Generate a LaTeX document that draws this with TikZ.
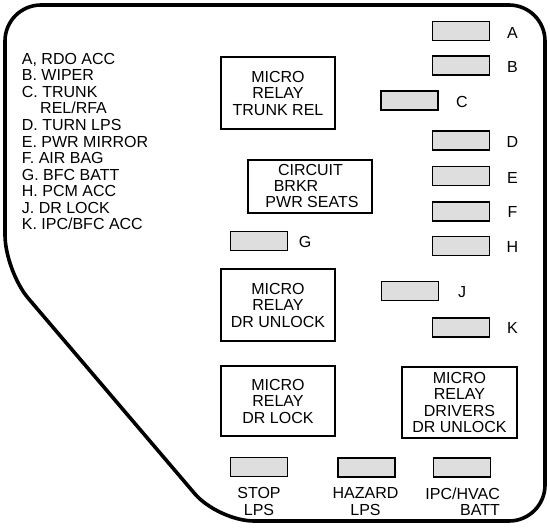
\documentclass[tikz,border=0pt]{standalone}
\usepackage{fontspec}
\setmainfont{Liberation Sans}
\definecolor{fusegray}{RGB}{222,222,222}
\begin{document}
\begin{tikzpicture}[x=1bp,y=-1bp,
  txt/.style={font=\fontsize{16bp}{16.5bp}\selectfont, inner sep=0pt},
  fuse/.style={draw, line width=1.8bp, fill=fusegray, inner sep=0pt, minimum width=57bp, minimum height=19bp},
  relay/.style={draw, line width=1.8bp, fill=white, inner sep=0pt, align=center, font=\fontsize{16bp}{16.5bp}\selectfont},
  outline/.style={line width=3.6bp, rounded corners=36bp}]
\useasboundingbox (0,0) rectangle (550,528);
\draw[outline] (5,150) -- (5,5) -- (545,5) -- (545,521) -- (218,521) -- (5,271) -- cycle;

% left legend
\foreach \t [count=\i] in {{A, RDO ACC},{B. WIPER},{C. TRUNK}}
  \node[txt, anchor=base west] (L\i) at (21.7,{64.3+16.55*(\i-1)}) {\t};
\node[txt, anchor=base west] (L4) at (40,{64.3+16.55*3}) {REL/RFA};
\foreach \t [count=\i from 5] in {{D. TURN LPS},{E. PWR MIRROR},{F. AIR BAG},{G. BFC BATT},{H. PCM ACC},{J. DR LOCK},{K. IPC/BFC ACC}}
  \node[txt, anchor=base west] (L\i) at (21.7,{64.3+16.55*(\i-1)}) {\t};

% relays
\node[relay, minimum width=114bp, minimum height=72bp] (rTrunk) at (278,93) {MICRO\\RELAY\\TRUNK REL};
\node[relay, minimum width=114bp, minimum height=72bp] (rUnlock) at (278,305) {MICRO\\RELAY\\DR UNLOCK};
\node[relay, minimum width=114bp, minimum height=70bp] (rLock) at (278,401) {MICRO\\RELAY\\DR LOCK};
\node[relay, minimum width=115bp, minimum height=71bp] (rDrv) at (459.5,402.5) {MICRO\\RELAY\\DRIVERS\\DR UNLOCK};
\node[relay, minimum width=124bp, minimum height=53bp] (rCb) at (310,186.5) {};
\node[txt, anchor=base] (cb1) at (310.5,176) {CIRCUIT};
\node[txt, anchor=base] (cb2) at (296,192) {BRKR};
\node[txt, anchor=base] (cb3) at (312,208) {PWR SEATS};

% fuses
\node[fuse] (fA) at (461,31) {};
\node[fuse] (fB) at (461,65.5) {};
\node[fuse] (fC) at (409.5,100.5) {};
\node[fuse] (fD) at (461,140.5) {};
\node[fuse] (fE) at (461,176) {};
\node[fuse] (fF) at (461,211.5) {};
\node[fuse] (fH) at (461,246) {};
\node[fuse] (fG) at (259,241) {};
\node[fuse] (fJ) at (410,291) {};
\node[fuse] (fK) at (461,327.5) {};
\node[fuse] (fStop) at (259,467) {};
\node[fuse] (fHaz) at (366.5,467.5) {};
\node[fuse] (fIpc) at (462,467.5) {};

% fuse letters
\node[txt] (lA) at (512.5,32.5) {A};
\node[txt] (lB) at (512.5,67) {B};
\node[txt] (lC) at (462,102) {C};
\node[txt] (lD) at (512.5,142) {D};
\node[txt] (lE) at (512.5,177.5) {E};
\node[txt] (lF) at (512.5,212) {F};
\node[txt] (lH) at (512.5,247) {H};
\node[txt] (lG) at (305,242) {G};
\node[txt] (lJ) at (462,292.5) {J};
\node[txt] (lK) at (512.5,328) {K};

% bottom labels
\node[txt, align=center, anchor=north] (tStop) at (259,487.5) {STOP\\LPS};
\node[txt, align=center, anchor=north] (tHaz) at (365.5,487.5) {HAZARD\\LPS};
\node[txt, align=right, anchor=north east] (tIpc) at (500,487.5) {IPC/HVAC\\BATT};
\end{tikzpicture}
\end{document}
